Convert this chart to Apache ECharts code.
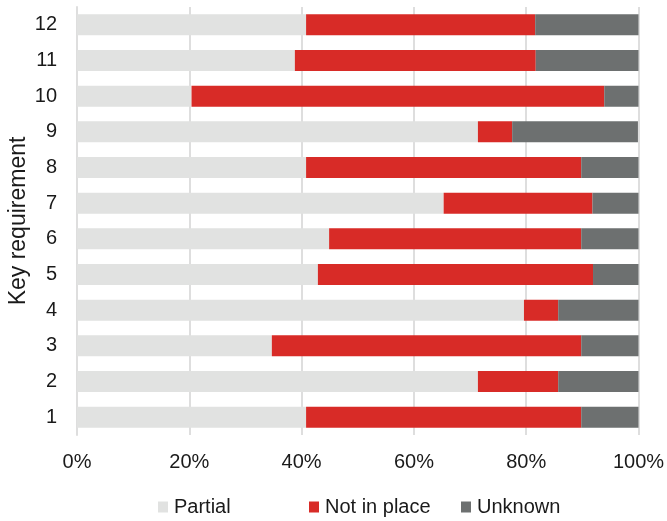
<!DOCTYPE html>
<html>
<head>
<meta charset="utf-8">
<script src="https://cdn.jsdelivr.net/npm/echarts@6/dist/echarts.min.js"></script>
<style>
  html, body { margin: 0; padding: 0; background: #fff; }
  #chart { width: 667px; height: 521px; }
</style>
</head>
<body>
<div id="chart"></div>
<script>
// Key requirements, bottom to top
const categories = ['1', '2', '3', '4', '5', '6', '7', '8', '9', '10', '11', '12'];

// Share of responses per status (%)
const partial    = [40.8, 71.4, 34.7, 79.6, 42.9, 44.9, 65.3, 40.8, 71.4, 20.4, 38.8, 40.8];
const notInPlace = [49.0, 14.3, 55.1,  6.1, 49.0, 44.9, 26.5, 49.0,  6.1, 73.5, 42.9, 40.8];
const unknown    = [10.2, 14.3, 10.2, 14.3,  8.1, 10.2,  8.2, 10.2, 22.4,  6.1, 18.4, 18.4];

const xTicks = [0, 20, 40, 60, 80, 100];

const FONT = "'Liberation Sans', Arial, Helvetica, sans-serif";
const TEXT = '#1a1a1a';
const GRID = '#dedede';

const colors = { Partial: '#e1e2e1', 'Not in place': '#d82b27', Unknown: '#6d7070' };

function barSeries(name, data) {
  return {
    name: name,
    type: 'bar',
    stack: 'total',
    data: data,
    barWidth: 21,
    itemStyle: { color: colors[name] },
    emphasis: { disabled: true }
  };
}

function legendAt(name, left) {
  return {
    data: [name],
    left: left,
    top: 497,
    padding: 0,
    itemWidth: 10,
    itemHeight: 11,
    selectedMode: false,
    icon: 'rect',
    textStyle: { fontFamily: FONT, fontSize: 20, color: TEXT, padding: [0, 0, 0, 1] }
  };
}

const chart = echarts.init(document.getElementById('chart'), null, { renderer: 'canvas' });
chart.setOption({
  animation: false,
  textStyle: { fontFamily: FONT },
  grid: {
    left: 77, right: 28.5, top: 7, bottom: 86,
    containLabel: false,
    outerBoundsMode: 'none'
  },
  legend: [
    legendAt('Partial', 158),
    legendAt('Not in place', 309),
    legendAt('Unknown', 461)
  ],
  xAxis: {
    type: 'value',
    min: xTicks[0],
    max: xTicks[xTicks.length - 1],
    interval: xTicks[1] - xTicks[0],
    axisLine: { show: false },
    axisTick: { show: false },
    splitLine: { show: true, lineStyle: { color: GRID, width: 2 } },
    axisLabel: {
      formatter: '{value}%',
      fontSize: 20,
      color: TEXT,
      fontFamily: FONT,
      margin: 17
    }
  },
  yAxis: {
    type: 'category',
    data: categories,
    name: 'Key requirement',
    nameLocation: 'middle',
    nameGap: 47,
    nameMoveOverlap: false,
    nameRotate: 90,
    nameTextStyle: { fontSize: 23, color: TEXT, fontFamily: FONT },
    axisLine: { show: true, lineStyle: { color: GRID, width: 2 } },
    axisTick: { show: false },
    axisLabel: { fontSize: 20, color: TEXT, fontFamily: FONT, margin: 20 }
  },
  series: [
    barSeries('Partial', partial),
    barSeries('Not in place', notInPlace),
    barSeries('Unknown', unknown)
  ]
});
</script>
</body>
</html>
